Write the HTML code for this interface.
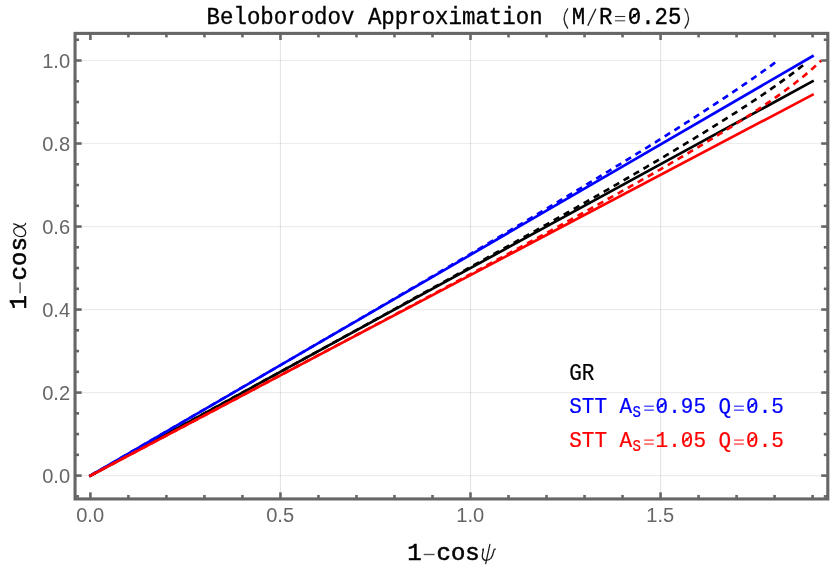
<!DOCTYPE html>
<html><head><meta charset="utf-8"><title>Beloborodov Approximation</title>
<style>html,body{margin:0;padding:0;background:#fff;overflow:hidden;}svg{display:block;will-change:transform;transform:translateZ(0);}text{font-family:"Liberation Mono",monospace;}.tk{font-family:"Liberation Sans",sans-serif;font-size:20.1px;fill:#666666;}.gk{font-family:"Liberation Serif",serif;font-style:italic;font-weight:normal;}</style></head><body>
<svg width="830" height="570" viewBox="0 0 830 570">
<rect x="0" y="0" width="830" height="570" fill="#ffffff"/>
<g fill="none" stroke="#000">
<line x1="280.45" y1="33.4" x2="280.45" y2="498.95" stroke-opacity="0.1" stroke-width="1.15"/>
<line x1="470.50" y1="33.4" x2="470.50" y2="498.95" stroke-opacity="0.1" stroke-width="1.15"/>
<line x1="660.55" y1="33.4" x2="660.55" y2="498.95" stroke-opacity="0.1" stroke-width="1.15"/>
<line x1="75.05" y1="475.60" x2="827.8" y2="475.60" stroke-opacity="0.075" stroke-width="1.2"/>
<line x1="75.05" y1="392.58" x2="827.8" y2="392.58" stroke-opacity="0.075" stroke-width="1.2"/>
<line x1="75.05" y1="309.56" x2="827.8" y2="309.56" stroke-opacity="0.075" stroke-width="1.2"/>
<line x1="75.05" y1="226.54" x2="827.8" y2="226.54" stroke-opacity="0.075" stroke-width="1.2"/>
<line x1="75.05" y1="143.52" x2="827.8" y2="143.52" stroke-opacity="0.075" stroke-width="1.2"/>
<line x1="75.05" y1="60.50" x2="827.8" y2="60.50" stroke-opacity="0.075" stroke-width="1.2"/>
</g>
<line x1="90.40" y1="475.60" x2="812.59" y2="81.25" stroke="#000000" stroke-width="2.65" stroke-linecap="square"/>
<polyline points="90.40,475.60 92.78,474.30 95.17,473.00 97.55,471.69 99.94,470.39 102.32,469.09 104.70,467.79 107.09,466.49 109.47,465.19 111.85,463.88 114.24,462.58 116.62,461.28 119.01,459.98 121.39,458.68 123.77,457.38 126.16,456.07 128.54,454.77 130.93,453.47 133.31,452.17 135.69,450.87 138.08,449.57 140.46,448.26 142.84,446.96 145.23,445.66 147.61,444.36 150.00,443.06 152.38,441.75 154.76,440.45 157.15,439.15 159.53,437.85 161.92,436.55 164.30,435.24 166.68,433.94 169.07,432.64 171.45,431.34 173.84,430.04 176.22,428.73 178.60,427.43 180.99,426.13 183.37,424.83 185.75,423.52 188.14,422.22 190.52,420.92 192.91,419.62 195.29,418.31 197.67,417.01 200.06,415.71 202.44,414.41 204.83,413.10 207.21,411.80 209.59,410.50 211.98,409.19 214.36,407.89 216.74,406.59 219.13,405.29 221.51,403.98 223.90,402.68 226.28,401.38 228.66,400.07 231.05,398.77 233.43,397.47 235.82,396.16 238.20,394.86 240.58,393.56 242.97,392.25 245.35,390.95 247.73,389.64 250.12,388.34 252.50,387.04 254.89,385.73 257.27,384.43 259.65,383.12 262.04,381.82 264.42,380.51 266.81,379.21 269.19,377.90 271.57,376.60 273.96,375.30 276.34,373.99 278.72,372.69 281.11,371.38 283.49,370.07 285.88,368.77 288.26,367.46 290.64,366.16 293.03,364.85 295.41,363.55 297.80,362.24 300.18,360.93 302.56,359.63 304.95,358.32 307.33,357.01 309.72,355.71 312.10,354.40 314.48,353.09 316.87,351.79 319.25,350.48 321.63,349.17 324.02,347.86 326.40,346.56 328.79,345.25 331.17,343.94 333.55,342.63 335.94,341.32 338.32,340.01 340.71,338.71 343.09,337.40 345.47,336.09 347.86,334.78 350.24,333.47 352.62,332.16 355.01,330.85 357.39,329.54 359.78,328.23 362.16,326.92 364.54,325.61 366.93,324.29 369.31,322.98 371.70,321.67 374.08,320.36 376.46,319.05 378.85,317.74 381.23,316.42 383.61,315.11 386.00,313.80 388.38,312.48 390.77,311.17 393.15,309.86 395.53,308.54 397.92,307.23 400.30,305.91 402.69,304.60 405.07,303.28 407.45,301.97 409.84,300.65 412.22,299.33 414.61,298.02 416.99,296.70 419.37,295.38 421.76,294.07 424.14,292.75 426.52,291.43 428.91,290.11 431.29,288.79 433.68,287.47 436.06,286.15 438.44,284.83 440.83,283.51 443.21,282.19 445.60,280.87 447.98,279.55 450.36,278.23 452.75,276.90 455.13,275.58 457.51,274.26 459.90,272.93 462.28,271.61 464.67,270.29 467.05,268.96 469.43,267.63 471.82,266.31 474.20,264.98 476.59,263.66 478.97,262.33 481.35,261.00 483.74,259.67 486.12,258.34 488.50,257.01 490.89,255.68 493.27,254.35 495.66,253.02 498.04,251.69 500.42,250.35 502.81,249.02 505.19,247.69 507.58,246.35 509.96,245.02 512.34,243.68 514.73,242.35 517.11,241.01 519.49,239.67 521.88,238.33 524.26,236.99 526.65,235.65 529.03,234.31 531.41,232.97 533.80,231.63 536.18,230.29 538.57,228.94 540.95,227.60 543.33,226.25 545.72,224.91 548.10,223.56 550.49,222.21 552.87,220.86 555.25,219.52 557.64,218.16 560.02,216.81 562.40,215.46 564.79,214.11 567.17,212.75 569.56,211.40 571.94,210.04 574.32,208.68 576.71,207.33 579.09,205.97 581.48,204.61 583.86,203.24 586.24,201.88 588.63,200.52 591.01,199.15 593.39,197.79 595.78,196.42 598.16,195.05 600.55,193.68 602.93,192.31 605.31,190.94 607.70,189.56 610.08,188.19 612.47,186.81 614.85,185.43 617.23,184.05 619.62,182.67 622.00,181.29 624.38,179.90 626.77,178.51 629.15,177.13 631.54,175.74 633.92,174.35 636.30,172.95 638.69,171.56 641.07,170.16 643.46,168.76 645.84,167.36 648.22,165.96 650.61,164.55 652.99,163.15 655.37,161.74 657.76,160.33 660.14,158.91 662.53,157.50 664.91,156.08 667.29,154.66 669.68,153.24 672.06,151.81 674.45,150.38 676.83,148.95 679.21,147.52 681.60,146.08 683.98,144.65 686.37,143.20 688.75,141.76 691.13,140.31 693.52,138.86 695.90,137.40 698.28,135.95 700.67,134.48 703.05,133.02 705.44,131.55 707.82,130.08 710.20,128.60 712.59,127.12 714.97,125.63 717.36,124.14 719.74,122.65 722.12,121.15 724.51,119.65 726.89,118.14 729.27,116.62 731.66,115.10 734.04,113.58 736.43,112.04 738.81,110.51 741.19,108.96 743.58,107.41 745.96,105.86 748.35,104.29 750.73,102.72 753.11,101.14 755.50,99.55 757.88,97.95 760.26,96.35 762.65,94.73 765.03,93.11 767.42,91.47 769.80,89.83 772.18,88.17 774.57,86.50 776.95,84.81 779.34,83.12 781.72,81.40 784.10,79.68 786.49,77.93 788.87,76.17 791.25,74.38 793.64,72.58 796.02,70.75 798.41,68.90 800.79,67.03 803.17,65.12 805.56,63.18" fill="none" stroke="#000000" stroke-width="2.65" stroke-dasharray="6.4 5.1" stroke-linecap="butt" stroke-linejoin="round"/>
<line x1="90.40" y1="475.60" x2="812.59" y2="56.17" stroke="#0000ff" stroke-width="2.65" stroke-linecap="square"/>
<polyline points="90.40,475.60 92.69,474.27 94.98,472.94 97.28,471.61 99.57,470.28 101.86,468.95 104.15,467.61 106.44,466.28 108.73,464.95 111.03,463.62 113.32,462.29 115.61,460.96 117.90,459.63 120.19,458.30 122.48,456.97 124.78,455.64 127.07,454.30 129.36,452.97 131.65,451.64 133.94,450.31 136.23,448.98 138.53,447.65 140.82,446.32 143.11,444.99 145.40,443.66 147.69,442.32 149.98,440.99 152.28,439.66 154.57,438.33 156.86,437.00 159.15,435.67 161.44,434.34 163.73,433.01 166.03,431.68 168.32,430.34 170.61,429.01 172.90,427.68 175.19,426.35 177.48,425.02 179.78,423.69 182.07,422.36 184.36,421.02 186.65,419.69 188.94,418.36 191.23,417.03 193.53,415.70 195.82,414.37 198.11,413.03 200.40,411.70 202.69,410.37 204.98,409.04 207.28,407.71 209.57,406.37 211.86,405.04 214.15,403.71 216.44,402.38 218.73,401.05 221.03,399.71 223.32,398.38 225.61,397.05 227.90,395.72 230.19,394.38 232.48,393.05 234.78,391.72 237.07,390.39 239.36,389.05 241.65,387.72 243.94,386.39 246.23,385.06 248.53,383.72 250.82,382.39 253.11,381.06 255.40,379.72 257.69,378.39 259.98,377.06 262.28,375.72 264.57,374.39 266.86,373.06 269.15,371.72 271.44,370.39 273.73,369.05 276.03,367.72 278.32,366.39 280.61,365.05 282.90,363.72 285.19,362.38 287.48,361.05 289.78,359.71 292.07,358.38 294.36,357.04 296.65,355.71 298.94,354.37 301.23,353.04 303.53,351.70 305.82,350.37 308.11,349.03 310.40,347.70 312.69,346.36 314.98,345.03 317.28,343.69 319.57,342.35 321.86,341.02 324.15,339.68 326.44,338.34 328.73,337.01 331.03,335.67 333.32,334.33 335.61,333.00 337.90,331.66 340.19,330.32 342.48,328.98 344.78,327.65 347.07,326.31 349.36,324.97 351.65,323.63 353.94,322.29 356.23,320.95 358.53,319.61 360.82,318.27 363.11,316.94 365.40,315.60 367.69,314.26 369.98,312.92 372.28,311.58 374.57,310.24 376.86,308.89 379.15,307.55 381.44,306.21 383.74,304.87 386.03,303.53 388.32,302.19 390.61,300.85 392.90,299.50 395.19,298.16 397.49,296.82 399.78,295.48 402.07,294.13 404.36,292.79 406.65,291.44 408.94,290.10 411.24,288.76 413.53,287.41 415.82,286.07 418.11,284.72 420.40,283.38 422.69,282.03 424.99,280.68 427.28,279.34 429.57,277.99 431.86,276.64 434.15,275.30 436.44,273.95 438.74,272.60 441.03,271.25 443.32,269.90 445.61,268.55 447.90,267.20 450.19,265.85 452.49,264.50 454.78,263.15 457.07,261.80 459.36,260.45 461.65,259.10 463.94,257.75 466.24,256.39 468.53,255.04 470.82,253.69 473.11,252.33 475.40,250.98 477.69,249.62 479.99,248.27 482.28,246.91 484.57,245.56 486.86,244.20 489.15,242.84 491.44,241.48 493.74,240.13 496.03,238.77 498.32,237.41 500.61,236.05 502.90,234.69 505.19,233.33 507.49,231.96 509.78,230.60 512.07,229.24 514.36,227.88 516.65,226.51 518.94,225.15 521.24,223.78 523.53,222.42 525.82,221.05 528.11,219.68 530.40,218.31 532.69,216.95 534.99,215.58 537.28,214.21 539.57,212.84 541.86,211.46 544.15,210.09 546.44,208.72 548.74,207.35 551.03,205.97 553.32,204.60 555.61,203.22 557.90,201.84 560.19,200.46 562.49,199.09 564.78,197.71 567.07,196.33 569.36,194.94 571.65,193.56 573.94,192.18 576.24,190.79 578.53,189.41 580.82,188.02 583.11,186.64 585.40,185.25 587.69,183.86 589.99,182.47 592.28,181.08 594.57,179.68 596.86,178.29 599.15,176.90 601.44,175.50 603.74,174.10 606.03,172.70 608.32,171.30 610.61,169.90 612.90,168.50 615.19,167.10 617.49,165.69 619.78,164.29 622.07,162.88 624.36,161.47 626.65,160.06 628.94,158.65 631.24,157.23 633.53,155.82 635.82,154.40 638.11,152.98 640.40,151.56 642.69,150.14 644.99,148.71 647.28,147.29 649.57,145.86 651.86,144.43 654.15,143.00 656.44,141.57 658.74,140.13 661.03,138.69 663.32,137.25 665.61,135.81 667.90,134.37 670.20,132.92 672.49,131.47 674.78,130.02 677.07,128.57 679.36,127.11 681.65,125.66 683.95,124.19 686.24,122.73 688.53,121.26 690.82,119.79 693.11,118.32 695.40,116.85 697.70,115.37 699.99,113.89 702.28,112.40 704.57,110.91 706.86,109.42 709.15,107.92 711.45,106.42 713.74,104.92 716.03,103.41 718.32,101.90 720.61,100.39 722.90,98.87 725.20,97.34 727.49,95.81 729.78,94.28 732.07,92.74 734.36,91.19 736.65,89.64 738.95,88.09 741.24,86.53 743.53,84.96 745.82,83.38 748.11,81.80 750.40,80.22 752.70,78.62 754.99,77.02 757.28,75.41 759.57,73.79 761.86,72.17 764.15,70.53 766.45,68.89 768.74,67.23 771.03,65.57 773.32,63.89 775.61,62.20 777.90,60.50" fill="none" stroke="#0000ff" stroke-width="2.65" stroke-dasharray="6.4 5.1" stroke-linecap="butt" stroke-linejoin="round"/>
<line x1="90.40" y1="475.60" x2="812.59" y2="94.74" stroke="#ff0000" stroke-width="2.65" stroke-linecap="square"/>
<polyline points="90.40,475.60 92.84,474.32 95.27,473.03 97.71,471.75 100.15,470.46 102.58,469.18 105.02,467.89 107.45,466.61 109.89,465.32 112.33,464.04 114.76,462.75 117.20,461.47 119.64,460.18 122.07,458.90 124.51,457.61 126.95,456.33 129.38,455.04 131.82,453.76 134.26,452.47 136.69,451.19 139.13,449.90 141.56,448.62 144.00,447.33 146.44,446.05 148.87,444.76 151.31,443.48 153.75,442.19 156.18,440.91 158.62,439.62 161.06,438.34 163.49,437.05 165.93,435.76 168.36,434.48 170.80,433.19 173.24,431.91 175.67,430.62 178.11,429.34 180.55,428.05 182.98,426.77 185.42,425.48 187.86,424.20 190.29,422.91 192.73,421.62 195.17,420.34 197.60,419.05 200.04,417.77 202.47,416.48 204.91,415.19 207.35,413.91 209.78,412.62 212.22,411.34 214.66,410.05 217.09,408.76 219.53,407.48 221.97,406.19 224.40,404.90 226.84,403.62 229.27,402.33 231.71,401.05 234.15,399.76 236.58,398.47 239.02,397.18 241.46,395.90 243.89,394.61 246.33,393.32 248.77,392.04 251.20,390.75 253.64,389.46 256.08,388.17 258.51,386.89 260.95,385.60 263.38,384.31 265.82,383.02 268.26,381.74 270.69,380.45 273.13,379.16 275.57,377.87 278.00,376.58 280.44,375.29 282.88,374.00 285.31,372.72 287.75,371.43 290.18,370.14 292.62,368.85 295.06,367.56 297.49,366.27 299.93,364.98 302.37,363.69 304.80,362.40 307.24,361.11 309.68,359.82 312.11,358.53 314.55,357.24 316.99,355.95 319.42,354.66 321.86,353.37 324.29,352.08 326.73,350.79 329.17,349.49 331.60,348.20 334.04,346.91 336.48,345.62 338.91,344.33 341.35,343.03 343.79,341.74 346.22,340.45 348.66,339.16 351.09,337.86 353.53,336.57 355.97,335.27 358.40,333.98 360.84,332.69 363.28,331.39 365.71,330.10 368.15,328.80 370.59,327.51 373.02,326.21 375.46,324.92 377.89,323.62 380.33,322.33 382.77,321.03 385.20,319.73 387.64,318.44 390.08,317.14 392.51,315.84 394.95,314.54 397.39,313.25 399.82,311.95 402.26,310.65 404.70,309.35 407.13,308.05 409.57,306.75 412.00,305.45 414.44,304.15 416.88,302.85 419.31,301.55 421.75,300.25 424.19,298.95 426.62,297.64 429.06,296.34 431.50,295.04 433.93,293.74 436.37,292.43 438.80,291.13 441.24,289.82 443.68,288.52 446.11,287.21 448.55,285.91 450.99,284.60 453.42,283.30 455.86,281.99 458.30,280.68 460.73,279.37 463.17,278.07 465.61,276.76 468.04,275.45 470.48,274.14 472.91,272.83 475.35,271.52 477.79,270.20 480.22,268.89 482.66,267.58 485.10,266.27 487.53,264.95 489.97,263.64 492.41,262.32 494.84,261.01 497.28,259.69 499.71,258.38 502.15,257.06 504.59,255.74 507.02,254.42 509.46,253.10 511.90,251.78 514.33,250.46 516.77,249.14 519.21,247.82 521.64,246.50 524.08,245.17 526.52,243.85 528.95,242.53 531.39,241.20 533.82,239.87 536.26,238.55 538.70,237.22 541.13,235.89 543.57,234.56 546.01,233.23 548.44,231.90 550.88,230.56 553.32,229.23 555.75,227.90 558.19,226.56 560.62,225.22 563.06,223.89 565.50,222.55 567.93,221.21 570.37,219.87 572.81,218.53 575.24,217.19 577.68,215.84 580.12,214.50 582.55,213.15 584.99,211.80 587.43,210.46 589.86,209.11 592.30,207.75 594.73,206.40 597.17,205.05 599.61,203.69 602.04,202.34 604.48,200.98 606.92,199.62 609.35,198.26 611.79,196.90 614.23,195.54 616.66,194.17 619.10,192.80 621.53,191.44 623.97,190.07 626.41,188.69 628.84,187.32 631.28,185.95 633.72,184.57 636.15,183.19 638.59,181.81 641.03,180.43 643.46,179.04 645.90,177.66 648.34,176.27 650.77,174.88 653.21,173.48 655.64,172.09 658.08,170.69 660.52,169.29 662.95,167.88 665.39,166.47 667.83,165.05 670.26,163.63 672.70,162.21 675.14,160.79 677.57,159.36 680.01,157.93 682.44,156.49 684.88,155.05 687.32,153.61 689.75,152.16 692.19,150.71 694.63,149.26 697.06,147.80 699.50,146.34 701.94,144.87 704.37,143.40 706.81,141.93 709.25,140.45 711.68,138.96 714.12,137.47 716.55,135.98 718.99,134.48 721.43,132.97 723.86,131.46 726.30,129.94 728.74,128.41 731.17,126.88 733.61,125.35 736.05,123.80 738.48,122.25 740.92,120.69 743.35,119.12 745.79,117.55 748.23,115.96 750.66,114.37 753.10,112.77 755.54,111.15 757.97,109.53 760.41,107.90 762.85,106.25 765.28,104.59 767.72,102.92 770.16,101.24 772.59,99.54 775.03,97.83 777.46,96.10 779.90,94.36 782.34,92.59 784.77,90.81 787.21,89.01 789.65,87.18 792.08,85.33 794.52,83.46 796.96,81.56 799.39,79.63 801.83,77.66 804.26,75.66 806.70,73.64 809.14,71.59 811.57,69.49 814.01,67.34 816.45,65.13 818.88,62.86 821.32,60.50" fill="none" stroke="#ff0000" stroke-width="2.65" stroke-dasharray="6.4 5.1" stroke-linecap="butt" stroke-linejoin="round"/>
<rect x="75.05" y="33.4" width="752.75" height="465.55" fill="none" stroke="#666666" stroke-width="3.1"/>
<g stroke="#666666" stroke-width="2.6">
<line x1="90.40" y1="498.95" x2="90.40" y2="492.35"/>
<line x1="90.40" y1="33.4" x2="90.40" y2="40.00"/>
<line x1="128.41" y1="498.95" x2="128.41" y2="494.95"/>
<line x1="128.41" y1="33.4" x2="128.41" y2="37.40"/>
<line x1="166.42" y1="498.95" x2="166.42" y2="494.95"/>
<line x1="166.42" y1="33.4" x2="166.42" y2="37.40"/>
<line x1="204.43" y1="498.95" x2="204.43" y2="494.95"/>
<line x1="204.43" y1="33.4" x2="204.43" y2="37.40"/>
<line x1="242.44" y1="498.95" x2="242.44" y2="494.95"/>
<line x1="242.44" y1="33.4" x2="242.44" y2="37.40"/>
<line x1="280.45" y1="498.95" x2="280.45" y2="492.35"/>
<line x1="280.45" y1="33.4" x2="280.45" y2="40.00"/>
<line x1="318.46" y1="498.95" x2="318.46" y2="494.95"/>
<line x1="318.46" y1="33.4" x2="318.46" y2="37.40"/>
<line x1="356.47" y1="498.95" x2="356.47" y2="494.95"/>
<line x1="356.47" y1="33.4" x2="356.47" y2="37.40"/>
<line x1="394.48" y1="498.95" x2="394.48" y2="494.95"/>
<line x1="394.48" y1="33.4" x2="394.48" y2="37.40"/>
<line x1="432.49" y1="498.95" x2="432.49" y2="494.95"/>
<line x1="432.49" y1="33.4" x2="432.49" y2="37.40"/>
<line x1="470.50" y1="498.95" x2="470.50" y2="492.35"/>
<line x1="470.50" y1="33.4" x2="470.50" y2="40.00"/>
<line x1="508.51" y1="498.95" x2="508.51" y2="494.95"/>
<line x1="508.51" y1="33.4" x2="508.51" y2="37.40"/>
<line x1="546.52" y1="498.95" x2="546.52" y2="494.95"/>
<line x1="546.52" y1="33.4" x2="546.52" y2="37.40"/>
<line x1="584.53" y1="498.95" x2="584.53" y2="494.95"/>
<line x1="584.53" y1="33.4" x2="584.53" y2="37.40"/>
<line x1="622.54" y1="498.95" x2="622.54" y2="494.95"/>
<line x1="622.54" y1="33.4" x2="622.54" y2="37.40"/>
<line x1="660.55" y1="498.95" x2="660.55" y2="492.35"/>
<line x1="660.55" y1="33.4" x2="660.55" y2="40.00"/>
<line x1="698.56" y1="498.95" x2="698.56" y2="494.95"/>
<line x1="698.56" y1="33.4" x2="698.56" y2="37.40"/>
<line x1="736.57" y1="498.95" x2="736.57" y2="494.95"/>
<line x1="736.57" y1="33.4" x2="736.57" y2="37.40"/>
<line x1="774.58" y1="498.95" x2="774.58" y2="494.95"/>
<line x1="774.58" y1="33.4" x2="774.58" y2="37.40"/>
<line x1="812.59" y1="498.95" x2="812.59" y2="494.95"/>
<line x1="812.59" y1="33.4" x2="812.59" y2="37.40"/>
<line x1="75.05" y1="496.36" x2="79.05" y2="496.36"/>
<line x1="827.8" y1="496.36" x2="823.80" y2="496.36"/>
<line x1="75.05" y1="475.60" x2="81.65" y2="475.60"/>
<line x1="827.8" y1="475.60" x2="821.20" y2="475.60"/>
<line x1="75.05" y1="454.85" x2="79.05" y2="454.85"/>
<line x1="827.8" y1="454.85" x2="823.80" y2="454.85"/>
<line x1="75.05" y1="434.09" x2="79.05" y2="434.09"/>
<line x1="827.8" y1="434.09" x2="823.80" y2="434.09"/>
<line x1="75.05" y1="413.34" x2="79.05" y2="413.34"/>
<line x1="827.8" y1="413.34" x2="823.80" y2="413.34"/>
<line x1="75.05" y1="392.58" x2="81.65" y2="392.58"/>
<line x1="827.8" y1="392.58" x2="821.20" y2="392.58"/>
<line x1="75.05" y1="371.83" x2="79.05" y2="371.83"/>
<line x1="827.8" y1="371.83" x2="823.80" y2="371.83"/>
<line x1="75.05" y1="351.07" x2="79.05" y2="351.07"/>
<line x1="827.8" y1="351.07" x2="823.80" y2="351.07"/>
<line x1="75.05" y1="330.32" x2="79.05" y2="330.32"/>
<line x1="827.8" y1="330.32" x2="823.80" y2="330.32"/>
<line x1="75.05" y1="309.56" x2="81.65" y2="309.56"/>
<line x1="827.8" y1="309.56" x2="821.20" y2="309.56"/>
<line x1="75.05" y1="288.81" x2="79.05" y2="288.81"/>
<line x1="827.8" y1="288.81" x2="823.80" y2="288.81"/>
<line x1="75.05" y1="268.05" x2="79.05" y2="268.05"/>
<line x1="827.8" y1="268.05" x2="823.80" y2="268.05"/>
<line x1="75.05" y1="247.29" x2="79.05" y2="247.29"/>
<line x1="827.8" y1="247.29" x2="823.80" y2="247.29"/>
<line x1="75.05" y1="226.54" x2="81.65" y2="226.54"/>
<line x1="827.8" y1="226.54" x2="821.20" y2="226.54"/>
<line x1="75.05" y1="205.79" x2="79.05" y2="205.79"/>
<line x1="827.8" y1="205.79" x2="823.80" y2="205.79"/>
<line x1="75.05" y1="185.03" x2="79.05" y2="185.03"/>
<line x1="827.8" y1="185.03" x2="823.80" y2="185.03"/>
<line x1="75.05" y1="164.27" x2="79.05" y2="164.27"/>
<line x1="827.8" y1="164.27" x2="823.80" y2="164.27"/>
<line x1="75.05" y1="143.52" x2="81.65" y2="143.52"/>
<line x1="827.8" y1="143.52" x2="821.20" y2="143.52"/>
<line x1="75.05" y1="122.76" x2="79.05" y2="122.76"/>
<line x1="827.8" y1="122.76" x2="823.80" y2="122.76"/>
<line x1="75.05" y1="102.01" x2="79.05" y2="102.01"/>
<line x1="827.8" y1="102.01" x2="823.80" y2="102.01"/>
<line x1="75.05" y1="81.25" x2="79.05" y2="81.25"/>
<line x1="827.8" y1="81.25" x2="823.80" y2="81.25"/>
<line x1="75.05" y1="60.50" x2="81.65" y2="60.50"/>
<line x1="827.8" y1="60.50" x2="821.20" y2="60.50"/>
<line x1="75.05" y1="39.75" x2="79.05" y2="39.75"/>
<line x1="827.8" y1="39.75" x2="823.80" y2="39.75"/>
</g>
<text class="tk" transform="translate(90.10,521.9) scale(1.0,1)" text-anchor="middle">0.0</text>
<text class="tk" transform="translate(280.15,521.9) scale(1.0,1)" text-anchor="middle">0.5</text>
<text class="tk" transform="translate(470.20,521.9) scale(1.0,1)" text-anchor="middle">1.0</text>
<text class="tk" transform="translate(660.25,521.9) scale(1.0,1)" text-anchor="middle">1.5</text>
<text class="tk" transform="translate(70.1,482.85) scale(1.0,1)" text-anchor="end">0.0</text>
<text class="tk" transform="translate(70.1,399.83) scale(1.0,1)" text-anchor="end">0.2</text>
<text class="tk" transform="translate(70.1,316.81) scale(1.0,1)" text-anchor="end">0.4</text>
<text class="tk" transform="translate(70.1,233.79) scale(1.0,1)" text-anchor="end">0.6</text>
<text class="tk" transform="translate(70.1,150.77) scale(1.0,1)" text-anchor="end">0.8</text>
<text class="tk" transform="translate(70.1,67.75) scale(1.0,1)" text-anchor="end">1.0</text>
<text transform="translate(206.60,23.60) scale(1,1.06)" font-size="22.4" fill="#000" stroke="#000" stroke-width="0.3" xml:space="preserve">Beloborodov Approximation</text>
<text transform="translate(571.78,23.60) scale(1,1.06)" font-size="22.4" fill="#000" stroke="#000" stroke-width="0.3" xml:space="preserve">M</text>
<text transform="translate(599.06,23.60) scale(1,1.06)" font-size="22.4" fill="#000" stroke="#000" stroke-width="0.3" xml:space="preserve">R</text>
<text transform="translate(627.74,23.60) scale(1,1.06)" font-size="22.4" fill="#000" stroke="#000" stroke-width="0.3" xml:space="preserve">0.25</text>
<line x1="630.76" y1="18.85" x2="638.16" y2="12.44" stroke="#000" stroke-width="1.5"/>
<g fill="none" stroke="#222" stroke-width="1.3" stroke-linecap="butt">
<path d="M567.90,8.3 Q560.36,18.45 567.90,28.6"/>
<path d="M684.70,8.3 Q692.24,18.45 684.70,28.6"/>
<line x1="595.9" y1="8.8" x2="587.7" y2="25.8" stroke-width="1.4"/>
<line x1="615.0" y1="16.5" x2="625.2" y2="16.5" stroke="#333" stroke-width="1.1"/>
<line x1="615.0" y1="20.7" x2="625.2" y2="20.7" stroke="#777" stroke-width="1.5"/>
</g>
<text transform="translate(407.30,560.40) scale(1,1.02)" font-size="24.0" fill="#000" stroke="#000" stroke-width="0.55" xml:space="preserve">1</text>
<line x1="423.7" y1="554.5" x2="434.6" y2="554.5" stroke="#555" stroke-width="1.4"/>
<text transform="translate(436.50,560.40) scale(1,0.98)" font-size="24.0" fill="#000" stroke="#000" stroke-width="0.55" xml:space="preserve">cos</text>
<g fill="none" stroke="#1a1a1a" stroke-linecap="round" stroke-linejoin="round"><path d="M489.9,544.4 L485.7,563.6" stroke-width="1.25"/><path d="M482.7,549.9 C482.9,549.2 483.2,548.8 483.4,548.9 C483.9,549.2 482.2,553.4 482.3,555.9 C482.4,558.7 483.9,560.3 485.9,560.3 C488.0,560.3 489.7,559.7 490.9,558.4 C492.9,556.1 493.4,552.4 494.0,549.9 C494.2,549.3 494.7,549.0 495.3,549.2" stroke-width="1.3"/></g>
<g transform="translate(26.0,309.6) rotate(-90)">
<text transform="translate(0.00,0.00) scale(1,1.02)" font-size="24.0" fill="#000" stroke="#000" stroke-width="0.55" xml:space="preserve">1</text>
<line x1="16.4" y1="-5.9" x2="27.3" y2="-5.9" stroke="#555" stroke-width="1.4"/>
<text transform="translate(29.20,0.00) scale(1,0.98)" font-size="24.0" fill="#000" stroke="#000" stroke-width="0.55" xml:space="preserve">cos</text>
<path transform="translate(72.4,0)" d="M13.4,-12.3 C12.0,-8.6 9.4,-0.25 4.7,-0.25 C1.7,-0.25 0.55,-2.5 0.55,-5.1 C0.55,-9.0 3.3,-12.35 6.5,-12.35 C9.5,-12.35 10.5,-8.3 11.1,-4.5 C11.5,-2.0 12.1,-0.5 13.9,-0.35" fill="none" stroke="#1a1a1a" stroke-width="1.25" stroke-linecap="round" stroke-linejoin="round"/>
</g>
<text transform="translate(569.20,379.60) scale(1,1.11)" font-size="21.0" fill="#000" stroke="#000" stroke-width="0.2" xml:space="preserve">GR</text>
<text transform="translate(569.20,412.90) scale(1,1.09)" font-size="21.0" fill="#0000ff" stroke="#0000ff" stroke-width="0.2" xml:space="preserve">STT A</text>
<text transform="translate(632.40,416.90) scale(1,1.21)" font-size="14" fill="#0000ff" stroke="#0000ff" stroke-width="0.2" xml:space="preserve">S</text>
<line x1="644.20" y1="406.20" x2="653.80" y2="406.20" stroke="#0000ff" stroke-width="1.15" stroke-opacity="0.85"/>
<line x1="644.20" y1="410.15" x2="653.80" y2="410.15" stroke="#0000ff" stroke-width="1.15" stroke-opacity="0.85"/>
<text transform="translate(655.60,412.90) scale(1,1.09)" font-size="21.0" fill="#0000ff" stroke="#0000ff" stroke-width="0.2" xml:space="preserve">0.95 Q</text>
<line x1="658.43" y1="408.32" x2="665.37" y2="402.14" stroke="#0000ff" stroke-width="1.4"/>
<line x1="734.00" y1="406.20" x2="743.80" y2="406.20" stroke="#0000ff" stroke-width="1.15" stroke-opacity="0.85"/>
<line x1="734.00" y1="410.15" x2="743.80" y2="410.15" stroke="#0000ff" stroke-width="1.15" stroke-opacity="0.85"/>
<text transform="translate(746.10,412.90) scale(1,1.09)" font-size="21.0" fill="#0000ff" stroke="#0000ff" stroke-width="0.2" xml:space="preserve">0.5</text>
<line x1="748.93" y1="408.32" x2="755.87" y2="402.14" stroke="#0000ff" stroke-width="1.4"/>
<text transform="translate(569.20,446.80) scale(1,1.09)" font-size="21.0" fill="#ff0000" stroke="#ff0000" stroke-width="0.2" xml:space="preserve">STT A</text>
<text transform="translate(632.40,450.80) scale(1,1.21)" font-size="14" fill="#ff0000" stroke="#ff0000" stroke-width="0.2" xml:space="preserve">S</text>
<line x1="644.20" y1="440.10" x2="653.80" y2="440.10" stroke="#ff0000" stroke-width="1.15" stroke-opacity="0.85"/>
<line x1="644.20" y1="444.05" x2="653.80" y2="444.05" stroke="#ff0000" stroke-width="1.15" stroke-opacity="0.85"/>
<text transform="translate(655.60,446.80) scale(1,1.09)" font-size="21.0" fill="#ff0000" stroke="#ff0000" stroke-width="0.2" xml:space="preserve">1.05 Q</text>
<line x1="683.63" y1="442.22" x2="690.57" y2="436.04" stroke="#ff0000" stroke-width="1.4"/>
<line x1="734.00" y1="440.10" x2="743.80" y2="440.10" stroke="#ff0000" stroke-width="1.15" stroke-opacity="0.85"/>
<line x1="734.00" y1="444.05" x2="743.80" y2="444.05" stroke="#ff0000" stroke-width="1.15" stroke-opacity="0.85"/>
<text transform="translate(746.10,446.80) scale(1,1.09)" font-size="21.0" fill="#ff0000" stroke="#ff0000" stroke-width="0.2" xml:space="preserve">0.5</text>
<line x1="748.93" y1="442.22" x2="755.87" y2="436.04" stroke="#ff0000" stroke-width="1.4"/>
</svg></body></html>
